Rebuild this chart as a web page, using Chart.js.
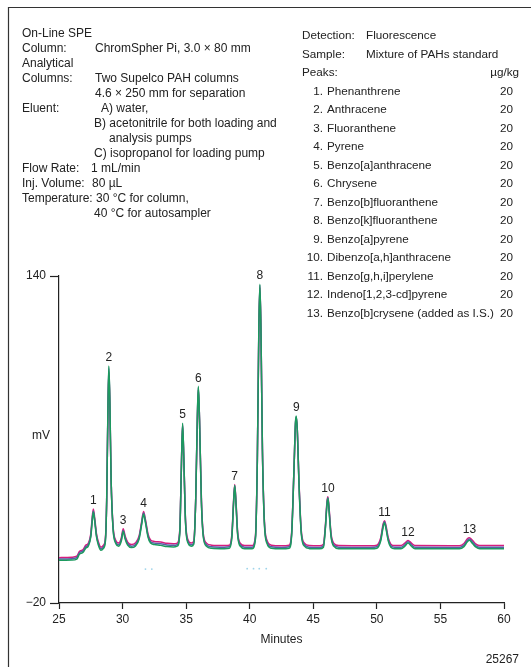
<!DOCTYPE html>
<html>
<head>
<meta charset="utf-8">
<title>On-Line SPE of PAHs</title>
<script src="https://cdn.jsdelivr.net/npm/chart.js@4.4.1/dist/chart.umd.min.js"></script>
<style>
  body { margin: 0; background: #fff; }
  canvas { display: block; }
</style>
</head>
<body>
<canvas id="myChart" width="531" height="667"></canvas>
<script>
//Data
const minutes = [
  25.0, 26.0, 26.4, 26.6, 26.9, 27.1, 27.3, 27.5, 27.6, 27.7,
  27.8, 27.95, 28.1, 28.3, 28.5, 28.65, 28.75, 28.85, 28.92, 29.0,
  29.1, 29.25, 29.45, 29.7, 29.9, 30.05, 30.2, 30.4, 30.7, 31.0,
  31.3, 31.5, 31.65, 31.8, 32.0, 32.2, 32.5, 33.0, 33.5, 34.0,
  34.3, 34.5, 34.62, 34.72, 34.82, 34.95, 35.15, 35.4, 35.6, 35.75,
  35.88, 35.96, 36.05, 36.2, 36.35, 36.6, 37.0, 38.0, 38.4, 38.6,
  38.72, 38.82, 38.92, 39.05, 39.25, 39.6, 40.2, 40.45, 40.6, 40.72,
  40.8, 40.88, 41.0, 41.15, 41.35, 41.7, 42.5, 43.1, 43.3, 43.48,
  43.6, 43.66, 43.74, 43.88, 44.05, 44.3, 44.7, 45.5, 45.8, 45.95,
  46.08, 46.15, 46.25, 46.4, 46.6, 47.0, 49.5, 50.0, 50.3, 50.5,
  50.6, 50.72, 50.9, 51.1, 51.4, 51.9, 52.2, 52.45, 52.7, 53.0,
  56.5, 56.85, 57.1, 57.28, 57.5, 57.8, 58.1, 60.0
];
const magentaMV = [
  2.2, 2.4, 2.9, 5.2, 6.2, 8.2, 9.2, 13.8, 21, 26,
  22, 13.8, 9.8, 7.3, 8.3, 11.8, 30, 74, 93, 77,
  40, 17.8, 10.8, 9.3, 11.8, 16.3, 12.8, 9.8, 8.6, 9.3,
  12.8, 19.8, 24.8, 20.8, 13.8, 10.8, 10.1, 9.8, 9.2, 9.0,
  9.3, 15.8, 45, 67, 50, 20.8, 10.8, 9.3, 10.3, 30,
  69, 84.5, 70, 30.8, 13.8, 9.3, 8.3, 8.1, 8.3, 13.8,
  28.8, 38, 29.8, 14.8, 9.3, 8.1, 8.1, 12.8, 50, 114,
  134.5, 115, 55, 20.8, 10.8, 8.3, 8.0, 8.3, 14.8, 45,
  67.5, 70.5, 65, 38.8, 15.8, 9.3, 8.1, 8.0, 8.8, 17.8,
  29.8, 32, 25.8, 13.8, 9.3, 8.1, 8.0, 8.3, 11.8, 18.8,
  20.3, 17.8, 11.8, 8.8, 8.1, 8.1, 9.3, 10.6, 9.4, 8.1,
  8.0, 9.1, 11.3, 11.9, 10.8, 8.8, 8.1, 8.1
];
const blueMV = [
  1.5, 1.7, 2.2, 4.5, 5.5, 7.5, 8.5, 13, 20, 25,
  21, 13, 9, 6.5, 7.5, 11, 30, 75, 95, 78,
  40, 17, 10, 8.5, 11, 15.5, 12, 9, 7.8, 8.5,
  12, 19, 24, 20, 13, 10, 9.3, 9.0, 8.4, 8.2,
  8.5, 15, 45, 67.5, 50, 20, 10, 8.5, 9.5, 30,
  70, 85.5, 70, 30, 13, 8.5, 7.5, 7.3, 7.5, 13,
  28, 37.5, 29, 14, 8.5, 7.3, 7.3, 12, 50, 115,
  135.5, 115, 55, 20, 10, 7.5, 7.2, 7.5, 14, 45,
  68, 71, 65, 38, 15, 8.5, 7.3, 7.2, 8, 17,
  29, 31.5, 25, 13, 8.5, 7.3, 7.2, 7.5, 11, 18,
  19.8, 17, 11, 8, 7.3, 7.3, 8.5, 10, 8.6, 7.3,
  7.2, 8.3, 10.5, 11.3, 10, 8, 7.3, 7.3
];
const greenMV = [
  0.9, 1.0, 1.5, 3.8, 4.8, 6.8, 7.8, 12.3, 19, 24.5,
  20.5, 12.3, 8.3, 5.8, 6.8, 10.3, 30, 76, 96, 79,
  40, 16.3, 9.3, 7.8, 10.3, 15, 11.3, 8.3, 7.1, 7.8,
  11.3, 18.3, 23.5, 19.3, 12.3, 9.3, 8.6, 8.2, 7.6, 7.4,
  7.8, 14.3, 45, 68, 50, 19.3, 9.3, 7.8, 8.8, 30,
  71, 86, 70, 29.3, 12.3, 7.8, 6.8, 6.6, 6.8, 12.3,
  27.3, 37.5, 28.3, 13.3, 7.8, 6.6, 6.6, 11.3, 50, 116,
  136, 115, 55, 19.3, 9.3, 6.8, 6.5, 6.8, 13.3, 45,
  68.5, 71.5, 65, 37.3, 14.3, 7.8, 6.6, 6.5, 7.3, 16.3,
  28.3, 31.2, 24.3, 12.3, 7.8, 6.6, 6.5, 6.8, 10.3, 17.3,
  19.3, 16.3, 10.3, 7.3, 6.6, 6.6, 7.8, 9.4, 7.9, 6.6,
  6.5, 7.6, 9.8, 10.7, 9.3, 7.3, 6.6, 6.6
];
// faint specks under the baseline
const speckMinutes = [31.8, 32.3, 39.8, 40.3, 40.75, 41.3];
const speckMV = [-3.4, -3.4, -3.2, -3.2, -3.2, -3.2];

// peak numbers and where they sit
const peakLabels = ['1','2','3','4','5','6','7','8','9','10','11','12','13'];
const peakTimes = [27.7, 28.92, 30.05, 31.65, 34.72, 35.96, 38.82, 40.8, 43.66, 46.15, 50.6, 52.45, 57.28];
const peakHeights = [26, 96, 16.3, 24.8, 68, 86, 38, 136, 71.5, 32, 20.3, 10.6, 11.9];

const peakNames = [
  'Phenanthrene', 'Anthracene', 'Fluoranthene', 'Pyrene', 'Benzo[a]anthracene',
  'Chrysene', 'Benzo[b]fluoranthene', 'Benzo[k]fluoranthene', 'Benzo[a]pyrene',
  'Dibenzo[a,h]anthracene', 'Benzo[g,h,i]perylene', 'Indeno[1,2,3-cd]pyrene',
  'Benzo[b]crysene (added as I.S.)'
];
const peakAmounts = [20, 20, 20, 20, 20, 20, 20, 20, 20, 20, 20, 20, 20];

const xTicks = [25, 30, 35, 40, 45, 50, 55, 60];
const yTicks = [-20, 140];

const FONT = '"Liberation Sans", Arial, Helvetica, sans-serif';
const INK = '#222';

function toPoints(xs, ys) {
  return xs.map((x, i) => ({ x: x, y: ys[i] }));
}

// conditions text, frame, peak numbers
const annotations = {
  id: 'annotations',
  beforeDraw(chart) {
    const ctx = chart.ctx;
    ctx.save();
    ctx.fillStyle = '#fff';
    ctx.fillRect(0, 0, chart.width, chart.height);
    ctx.restore();
  },
  afterDraw(chart) {
    const ctx = chart.ctx;
    const xs = chart.scales.x;
    const ys = chart.scales.y;
    ctx.save();

    // frame
    ctx.strokeStyle = '#333';
    ctx.lineWidth = 1.2;
    ctx.beginPath();
    ctx.moveTo(8.5, 667);
    ctx.lineTo(8.5, 7.5);
    ctx.lineTo(531, 7.5);
    ctx.stroke();

    ctx.fillStyle = INK;
    ctx.textBaseline = 'middle';

    // left column
    ctx.font = '12px ' + FONT;
    ctx.textAlign = 'left';
    const left = [
      [22, 'On-Line SPE'],
      [22, 'Column:', 95, 'ChromSpher Pi, 3.0 \u00d7 80 mm'],
      [22, 'Analytical'],
      [22, 'Columns:', 95, 'Two Supelco PAH columns'],
      [95, '4.6 \u00d7 250 mm for separation'],
      [22, 'Eluent:', 101, 'A) water,'],
      [94, 'B) acetonitrile for both loading and'],
      [109, 'analysis pumps'],
      [94, 'C) isopropanol for loading pump'],
      [22, 'Flow Rate:', 91, '1 mL/min'],
      [22, 'Inj. Volume:', 92, '80 \u00b5L'],
      [22, 'Temperature: 30 \u00b0C for column,'],
      [94, '40 \u00b0C for autosampler']
    ];
    left.forEach((row, i) => {
      const y = 34 + i * 15;
      for (let k = 0; k < row.length; k += 2) {
        ctx.fillText(row[k + 1], row[k], y);
      }
    });

    // right column
    ctx.font = '11.7px ' + FONT;
    ctx.fillText('Detection:', 302, 36);
    ctx.fillText('Fluorescence', 366, 36);
    ctx.fillText('Sample:', 302, 54.5);
    ctx.fillText('Mixture of PAHs standard', 366, 54.5);
    ctx.fillText('Peaks:', 302, 73);
    ctx.textAlign = 'right';
    ctx.fillText('\u00b5g/kg', 519, 73);
    peakNames.forEach((name, i) => {
      const y = 91.5 + i * 18.5;
      ctx.textAlign = 'right';
      ctx.fillText(peakLabels[i] + '.', 323, y);
      ctx.fillText(String(peakAmounts[i]), 513, y);
      ctx.textAlign = 'left';
      ctx.fillText(name, 327, y);
    });

    // axis name and figure number
    ctx.font = '12px ' + FONT;
    ctx.textAlign = 'center';
    ctx.fillText('mV', 41, 436);
    ctx.textAlign = 'right';
    ctx.fillText('25267', 519, 660);

    // peak numbers above each peak
    ctx.textAlign = 'center';
    ctx.textBaseline = 'bottom';
    peakLabels.forEach((lab, i) => {
      ctx.fillText(lab, xs.getPixelForValue(peakTimes[i]), ys.getPixelForValue(peakHeights[i]) - 2);
    });
    ctx.restore();
  }
};

const lineStyle = {
  borderWidth: 1.5,
  pointRadius: 0,
  fill: false,
  cubicInterpolationMode: 'monotone'
};

let myChart = document.getElementById('myChart').getContext('2d');
let chromChart = new Chart(myChart, {
  type: 'line',
  data: {
    datasets: [
      Object.assign({ label: 'green', data: toPoints(minutes, greenMV), borderColor: '#1c9a5e' }, lineStyle),
      Object.assign({ label: 'blue', data: toPoints(minutes, blueMV), borderColor: '#5660a6' }, lineStyle),
      Object.assign({ label: 'magenta', data: toPoints(minutes, magentaMV), borderColor: '#d61d7e' }, lineStyle),
      {
        type: 'scatter',
        label: 'specks',
        data: toPoints(speckMinutes, speckMV),
        backgroundColor: '#9fd4ea',
        borderWidth: 0,
        pointRadius: 0.9,
        showLine: false
      }
    ]
  },
  options: {
    responsive: false,
    animation: false,
    layout: { padding: { left: 0, right: 27, top: 276, bottom: 20 } },
    plugins: {
      legend: { display: false },
      tooltip: { enabled: false }
    },
    scales: {
      x: {
        type: 'linear',
        min: 25,
        max: 60,
        afterBuildTicks: s => { s.ticks = xTicks.map(v => ({ value: v })); },
        afterFit: s => { s.height = 44; },
        ticks: { color: INK, font: { size: 12, family: FONT }, padding: 3, maxRotation: 0 },
        grid: { drawOnChartArea: false, tickLength: 6, color: INK, tickWidth: 1.2 },
        border: { color: INK, width: 1.2 },
        title: { display: true, text: 'Minutes', color: INK, font: { size: 12, family: FONT }, padding: 0 }
      },
      y: {
        min: -20,
        max: 140,
        afterBuildTicks: s => { s.ticks = yTicks.map(v => ({ value: v })); },
        afterFit: s => { s.width = 59; },
        ticks: {
          color: INK,
          font: { size: 12, family: FONT },
          padding: 4,
          callback: v => String(v).replace('-', '\u2212')
        },
        grid: { drawOnChartArea: false, tickLength: 9, color: INK, tickWidth: 1.2 },
        border: { color: INK, width: 1.2 }
      }
    }
  },
  plugins: [annotations]
});
</script>
</body>
</html>
